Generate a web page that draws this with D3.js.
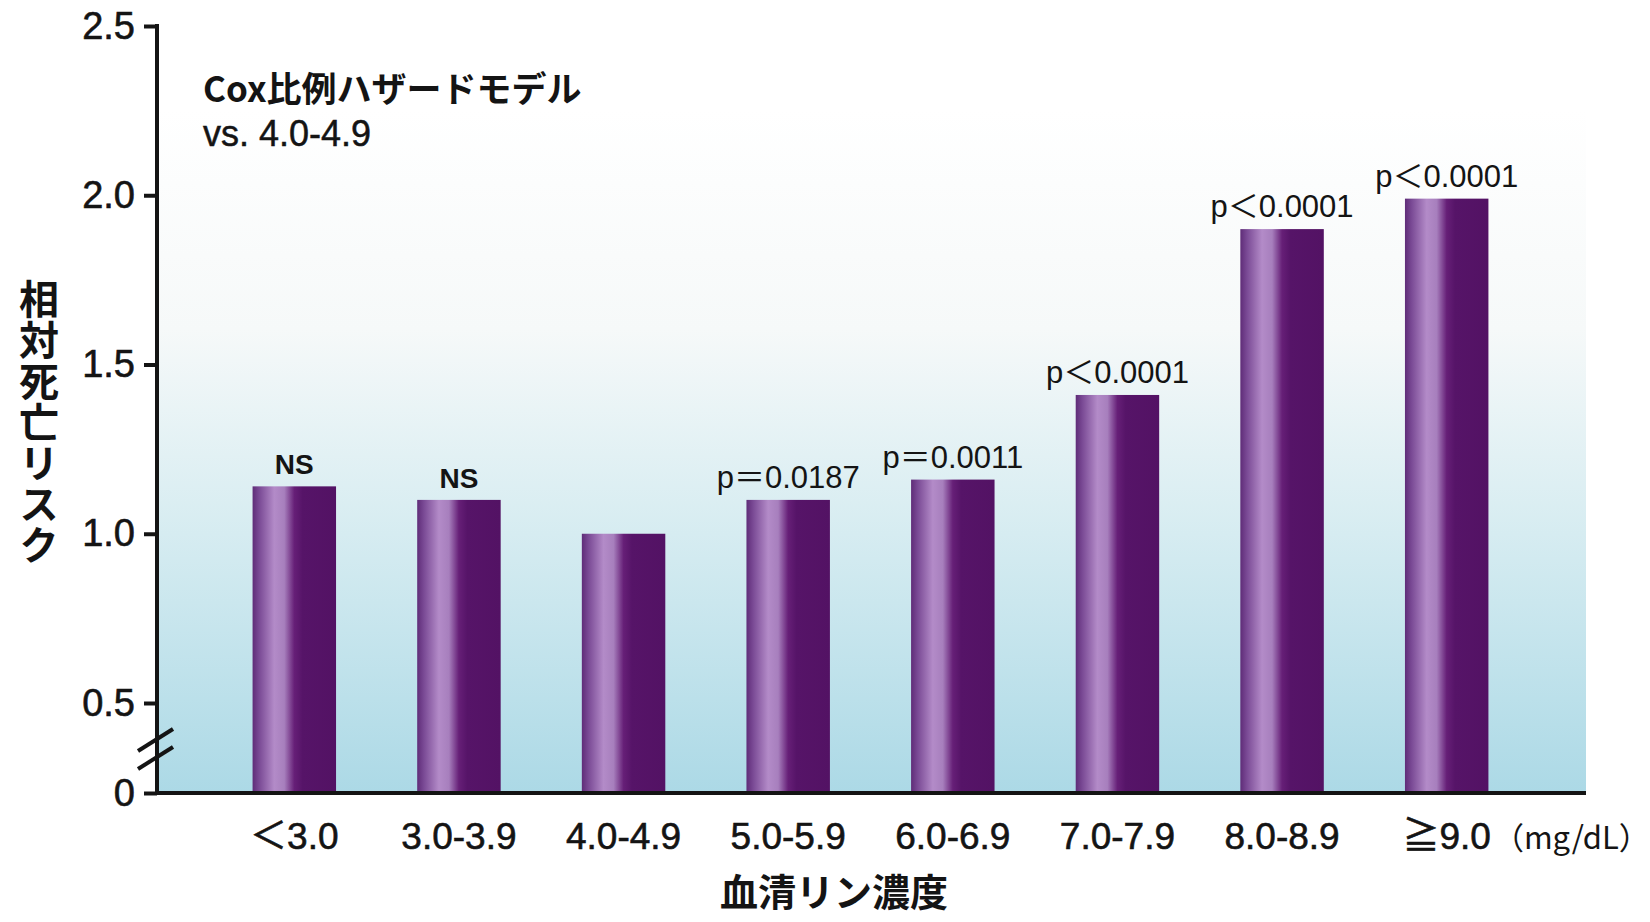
<!DOCTYPE html>
<html lang="ja">
<head>
<meta charset="utf-8">
<script src="https://cdn.jsdelivr.net/npm/d3@7"></script>
<style>
  html, body { margin: 0; padding: 0; background: #ffffff; }
  svg { display: block; }
</style>
</head>
<body>
<svg id="chart" width="1650" height="922"></svg>
<script>
// Serum phosphorus groups (mg/dL) and relative mortality risk (Cox model, ref 4.0-4.9)
const categories = ["＜3.0", "3.0-3.9", "4.0-4.9", "5.0-5.9", "6.0-6.9", "7.0-7.9", "8.0-8.9", "≧9.0"];
const relativeRisk = [1.14, 1.10, 1.00, 1.10, 1.16, 1.41, 1.90, 1.99];
const pLabels = ["NS", "NS", "", "p＝0.0187", "p＝0.0011", "p＜0.0001", "p＜0.0001", "p＜0.0001"];
const yTickValues = [0, 0.5, 1.0, 1.5, 2.0, 2.5];
const yTickLabels = ["0", "0.5", "1.0", "1.5", "2.0", "2.5"];
const unitLabel = "（mg/dL）";
const titleLines = ["Cox比例ハザードモデル", "vs. 4.0-4.9"];
const yTitle = "相対死亡リスク";
const xTitle = "血清リン濃度";

const svg = d3.select("#chart");
const axisX = 157, plotRight = 1586, baseY = 793;
const ink = "#141414";

// broken y axis: 0 to 0.5 compressed, 0.5 to 2.5 linear
const y = d3.scaleLinear().domain([0, 0.5, 2.5]).range([baseY, 703, 26]);
const x = d3.scaleBand().domain(categories).range([212, 1529])
  .paddingInner(0.493).paddingOuter(0.2465);

const defs = svg.append("defs");
const bg = defs.append("linearGradient").attr("id", "bgGrad")
  .attr("x1", 0).attr("y1", 0).attr("x2", 0).attr("y2", 1);
[[0, "#ffffff"], [0.32, "#f6f9f9"], [0.62, "#d6ecf1"], [1, "#acd9e6"]]
  .forEach(([o, c]) => bg.append("stop").attr("offset", o).attr("stop-color", c));

const barGrad = defs.append("linearGradient").attr("id", "barGrad")
  .attr("x1", 0).attr("y1", 0).attr("x2", 1).attr("y2", 0);
[[0, "#5f2c78"], [0.08, "#7a4a95"], [0.26, "#b38bc8"], [0.38, "#a77fbd"],
 [0.5, "#661f77"], [0.6, "#561468"], [1, "#531264"]]
  .forEach(([o, c]) => barGrad.append("stop").attr("offset", o).attr("stop-color", c));

// plot-area wash
svg.append("rect").attr("x", axisX).attr("y", 110)
  .attr("width", plotRight - axisX).attr("height", baseY - 110)
  .attr("fill", "url(#bgGrad)");

// bars
svg.append("g").selectAll("rect").data(relativeRisk).join("rect")
  .attr("x", (d, i) => x(categories[i]))
  .attr("y", d => y(d))
  .attr("width", x.bandwidth())
  .attr("height", d => baseY - y(d))
  .attr("fill", "url(#barGrad)");

// significance labels above bars
svg.append("g").selectAll("text").data(relativeRisk).join("text")
  .attr("x", (d, i) => x(categories[i]) + x.bandwidth() / 2)
  .attr("y", d => y(d) - 12)
  .attr("text-anchor", "middle")
  .attr("fill", ink)
  .style("font-family", (d, i) => pLabels[i] === "NS"
    ? "'Liberation Sans Narrow', 'Liberation Sans', sans-serif"
    : "'Liberation Sans', 'Noto Sans CJK JP', sans-serif")
  .style("font-weight", (d, i) => pLabels[i] === "NS" ? "bold" : "normal")
  .style("font-size", (d, i) => pLabels[i] === "NS" ? "28px" : "31px")
  .text((d, i) => pLabels[i]);

// y axis
const yAxis = d3.axisLeft(y).tickValues(yTickValues)
  .tickFormat((d, i) => yTickLabels[i]).tickSize(13).tickSizeOuter(0).tickPadding(9);
const gy = svg.append("g").attr("transform", `translate(${axisX},0)`).call(yAxis);
gy.select(".domain").remove();
gy.selectAll(".tick line").attr("stroke", ink).attr("stroke-width", 4);
gy.selectAll(".tick text").attr("fill", ink)
  .attr("stroke", ink).attr("stroke-width", 0.6)
  .style("font-family", "'Liberation Sans', Arial, sans-serif").style("font-size", "38px");
svg.append("line").attr("x1", axisX).attr("x2", axisX)
  .attr("y1", y(2.5) - 2).attr("y2", baseY + 2)
  .attr("stroke", ink).attr("stroke-width", 4);

// axis break marks between 0 and 0.5
const breakG = svg.append("g").attr("stroke", ink).attr("stroke-width", 4);
[y(0.25) - 8, y(0.25) + 10].forEach(cy => {
  breakG.append("line").attr("x1", axisX - 19).attr("y1", cy + 11)
    .attr("x2", axisX + 16).attr("y2", cy - 11);
});

// x axis
const xAxis = d3.axisBottom(x).tickSize(0).tickPadding(30).tickSizeOuter(0);
const gx = svg.append("g").attr("transform", `translate(0,${baseY})`).call(xAxis);
gx.select(".domain").remove();
gx.selectAll(".tick text").attr("fill", ink)
  .attr("stroke", ink).attr("stroke-width", 0.6)
  .style("font-family", "'Liberation Sans', 'Noto Sans CJK JP', Arial, sans-serif")
  .style("font-size", "37px");
svg.append("line").attr("x1", axisX - 2).attr("x2", plotRight)
  .attr("y1", baseY).attr("y2", baseY)
  .attr("stroke", ink).attr("stroke-width", 4);

// unit after last category label
const lastTick = gx.selectAll(".tick text").filter(d => d === categories[categories.length - 1]);
const lastW = lastTick.node().getComputedTextLength();
const lastCx = x(categories[categories.length - 1]) + x.bandwidth() / 2;
svg.append("text")
  .attr("x", lastCx + lastW / 2 + 2)
  .attr("y", 849)
  .attr("fill", ink)
  .style("font-family", "'Noto Sans CJK JP', sans-serif")
  .style("font-size", "31px")
  .text(unitLabel);

// model note
svg.append("text").attr("x", 203).attr("y", 102)
  .attr("fill", ink)
  .style("font-family", "'Noto Sans CJK JP', sans-serif")
  .style("font-weight", "bold").style("font-size", "35px")
  .text(titleLines[0]);
svg.append("text").attr("x", 203).attr("y", 146)
  .attr("fill", ink)
  .attr("stroke", ink).attr("stroke-width", 0.5)
  .style("font-family", "'Liberation Sans', sans-serif")
  .style("font-size", "36px")
  .text(titleLines[1]);

// vertical y-axis title
svg.append("text")
  .attr("x", 39).attr("y", 279)
  .attr("fill", ink)
  .style("writing-mode", "vertical-rl")
  .style("text-orientation", "upright")
  .style("letter-spacing", "1px")
  .style("font-family", "'Noto Sans CJK JP', sans-serif")
  .style("font-weight", "bold").style("font-size", "40px")
  .text(yTitle);

// x-axis title
svg.append("text").attr("x", 834).attr("y", 906)
  .attr("text-anchor", "middle")
  .attr("fill", ink)
  .style("font-family", "'Noto Sans CJK JP', sans-serif")
  .style("font-weight", "bold").style("font-size", "38px")
  .text(xTitle);
</script>
</body>
</html>
